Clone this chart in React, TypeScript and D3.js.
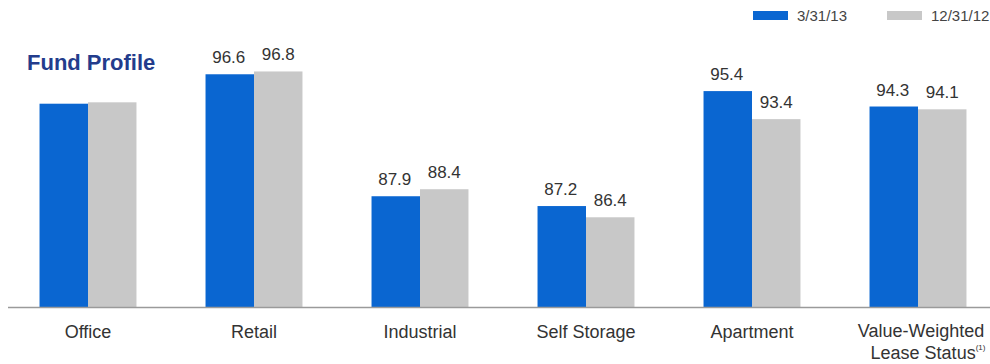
import React from 'react';
import * as d3 from 'd3';

// occupancy by property type, two reporting dates
const categories = ['Office', 'Retail', 'Industrial', 'Self Storage', 'Apartment', 'Value-Weighted'];
const seriesNames = ['3/31/13', '12/31/12'];
const seriesColors = ['#0A66D1', '#C8C8C8'];
const valuesMar13 = [94.5, 96.6, 87.9, 87.2, 95.4, 94.3];
const valuesDec12 = [94.6, 96.8, 88.4, 86.4, 93.4, 94.1];

const W = 990;
const H = 364;
const baseY = 307;
const font = '"Liberation Sans", Arial, sans-serif';

const App: React.FC = () => {
  // 카테고리 밴드
  const x = d3.scaleBand<string>().domain(categories).range([5, 1001]).paddingInner(0.416).paddingOuter(0.208);
  const xInner = d3.scaleBand<string>().domain(seriesNames).range([0, x.bandwidth()]);
  const y = d3.scaleLinear().domain([80, 100]).range([baseY, 26.6]);

  const series = [valuesMar13, valuesDec12];

  return (
    <svg width={W} height={H} style={{ position: 'absolute', left: 0, top: 0, background: '#fff' }} fontFamily={font}>
      {categories.map((c, i) => (
        <g key={c} transform={`translate(${x(c)},0)`}>
          {series.map((vals, s) => {
            const bx = xInner(seriesNames[s])!;
            const top = y(vals[i]);
            return (
              <g key={s}>
                <rect x={bx} y={top} width={xInner.bandwidth()} height={baseY - top} fill={seriesColors[s]} />
                <text
                  x={bx + xInner.bandwidth() / 2 + (s === 0 ? -1 : 0)}
                  y={top - 11}
                  textAnchor="middle"
                  fontSize={17}
                  fill="#333"
                >
                  {vals[i].toFixed(1)}
                </text>
              </g>
            );
          })}
        </g>
      ))}

      {/* baseline */}
      <line x1={8} x2={W} y1={baseY + 0.5} y2={baseY + 0.5} stroke="#9a9a9a" strokeWidth={1.5} />

      {/* category labels */}
      {categories.map((c) => {
        const cx = x(c)! + x.bandwidth() / 2;
        if (c === 'Value-Weighted') {
          return (
            <g key={c}>
              <text x={cx + 3} y={337} textAnchor="middle" fontSize={18} fill="#333">
                Value-Weighted
              </text>
              <text x={cx + 10} y={359} textAnchor="middle" fontSize={18} fill="#333">
                Lease Status
                <tspan fontSize={8} dy={-9}>
                  (1)
                </tspan>
              </text>
            </g>
          );
        }
        return (
          <text key={c} x={cx} y={338} textAnchor="middle" fontSize={18} fill="#333">
            {c}
          </text>
        );
      })}

      {/* title box covers the office labels */}
      <rect x={12} y={30} width={170} height={66} fill="#fff" />
      <text x={27} y={70} fontSize={22} fontWeight="bold" fill="#233C8C" fontFamily={font}>
        Fund Profile
      </text>

      {/* legend */}
      {seriesNames.map((n, s) => {
        const lx = s === 0 ? 753 : 887;
        return (
          <g key={n}>
            <rect x={lx} y={11} width={35} height={9} fill={seriesColors[s]} />
            <text x={lx + 44} y={21} fontSize={15} fill="#444">
              {n}
            </text>
          </g>
        );
      })}
    </svg>
  );
};

export default App;
